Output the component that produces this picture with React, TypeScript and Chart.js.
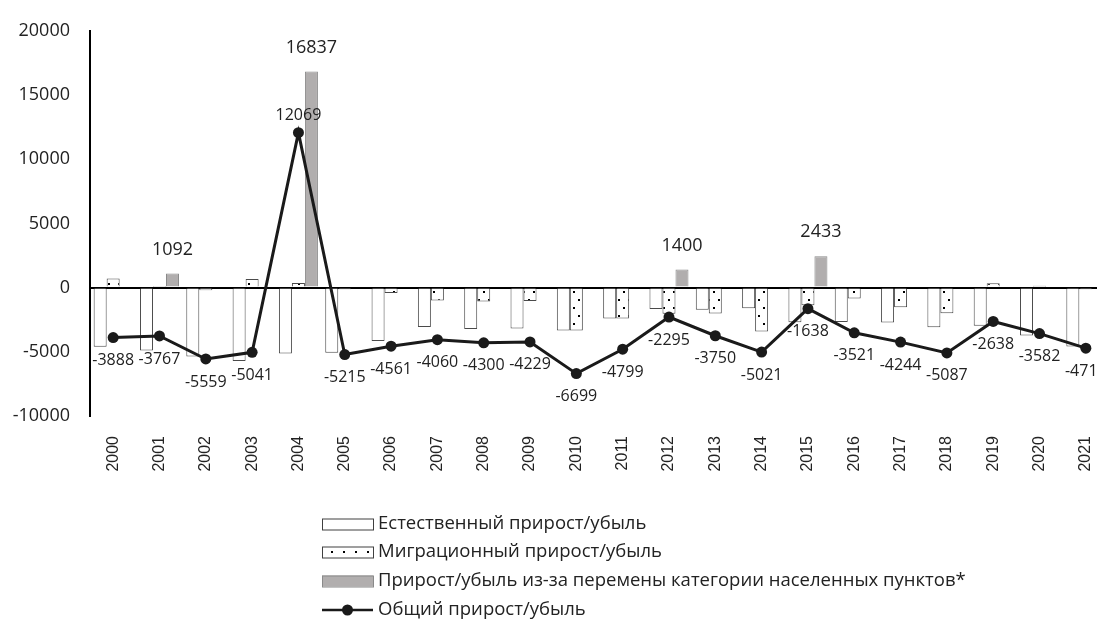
import React, { useEffect, useRef } from "react";
import { Chart, registerables } from "chart.js";

Chart.register(...registerables);

const years = [
  "2000", "2001", "2002", "2003", "2004", "2005", "2006", "2007", "2008", "2009", "2010",
  "2011", "2012", "2013", "2014", "2015", "2016", "2017", "2018", "2019", "2020", "2021",
];

const natural = [
  -4600, -4900, -5360, -5720, -5130, -5080, -4150, -3060, -3215, -3195, -3350,
  -2400, -1660, -1725, -1600, -2700, -2680, -2720, -3080, -2970, -3730, -4590,
];

const migration = [
  712, 41, -199, 679, 362, -135, -411, -1000, -1085, -1034, -3349,
  -2399, -2035, -2025, -3421, -1371, -841, -1524, -2007, 332, 148, -127,
];

const categoryChange = [
  0, 1092, 0, 0, 16837, 0, 0, 0, 0, 0, 0,
  0, 1400, 0, 0, 2433, 0, 0, 0, 0, 0, 0,
];

const total = [
  -3888, -3767, -5559, -5041, 12069, -5215, -4561, -4060, -4300, -4229, -6699,
  -4799, -2295, -3750, -5021, -1638, -3521, -4244, -5087, -2638, -3582, -4717,
];

const seriesLabels = [
  "Естественный прирост/убыль",
  "Миграционный прирост/убыль",
  "Прирост/убыль из-за перемены категории населенных пунктов*",
  "Общий прирост/убыль",
];

const yTicks = [-10000, -5000, 0, 5000, 10000, 15000, 20000];

const FONT = "'Open Sans', sans-serif";
const TEXT = "#222222";

function makeDotPattern(): CanvasPattern | string {
  const tile = document.createElement("canvas");
  tile.width = 10;
  tile.height = 16;
  const c = tile.getContext("2d");
  if (!c) return "#ffffff";
  c.fillStyle = "#ffffff";
  c.fillRect(0, 0, 10, 16);
  c.fillStyle = "#000000";
  c.fillRect(3, 3, 2, 2);
  c.fillRect(8, 11, 2, 2);
  const p = c.createPattern(tile, "repeat");
  return p || "#ffffff";
}

export default function App() {
  const canvasRef = useRef<HTMLCanvasElement | null>(null);

  useEffect(() => {
    const canvas = canvasRef.current;
    if (!canvas) return;
    const dots = makeDotPattern();

    const customPlugin = {
      id: "customDraw",
      afterDatasetsDraw(chart: any) {
        const ctx = chart.ctx;
        ctx.save();
        ctx.fillStyle = TEXT;
        ctx.textAlign = "center";
        ctx.textBaseline = "middle";
        const lineMeta = chart.getDatasetMeta(3);
        ctx.font = `16px ${FONT}`;
        lineMeta.data.forEach((pt: any, i: number) => {
          const v = chart.data.datasets[3].data[i];
          const y = v >= 0 ? pt.y - 17 : pt.y + 23;
          ctx.fillText(String(v), pt.x, y);
        });
        const barMeta = chart.getDatasetMeta(2);
        ctx.font = `18px ${FONT}`;
        barMeta.data.forEach((bar: any, i: number) => {
          const v = chart.data.datasets[2].data[i];
          if (!v) return;
          ctx.fillText(String(v), bar.x, bar.y - 24);
        });
        ctx.restore();
      },
      afterDraw(chart: any) {
        const ctx = chart.ctx;
        ctx.save();
        const x0 = 322;
        const w = 51;
        const rows = [524, 552, 581, 610];
        const fills = ["#ffffff", "#ffffff", "#b1aeae"];
        const strokes = ["#404040", "#404040", "#8a8a8a"];
        for (let i = 0; i < 3; i++) {
          ctx.fillStyle = fills[i];
          ctx.fillRect(x0, rows[i] - 5.5, w, 11);
          ctx.strokeStyle = strokes[i];
          ctx.lineWidth = 1;
          ctx.strokeRect(x0 + 0.5, rows[i] - 5, w, 11);
        }
        ctx.fillStyle = "#000000";
        for (let k = 0; k < 4; k++) {
          ctx.fillRect(x0 + 9 + k * 12, rows[1] - 1, 2, 2);
        }
        ctx.strokeStyle = "#1a1a1a";
        ctx.lineWidth = 2.5;
        ctx.beginPath();
        ctx.moveTo(x0, rows[3]);
        ctx.lineTo(x0 + w, rows[3]);
        ctx.stroke();
        ctx.fillStyle = "#1a1a1a";
        ctx.beginPath();
        ctx.arc(x0 + w / 2, rows[3], 5.5, 0, Math.PI * 2);
        ctx.fill();

        ctx.font = `18.5px ${FONT}`;
        ctx.fillStyle = TEXT;
        ctx.textAlign = "left";
        ctx.textBaseline = "middle";
        chart.data.datasets.forEach((ds: any, i: number) => {
          ctx.fillText(ds.label, x0 + w + 5, rows[i]);
        });
        ctx.restore();
      },
    };

    const chart = new Chart(canvas, {
      type: "bar",
      data: {
        labels: years,
        datasets: [
          {
            type: "bar",
            label: seriesLabels[0],
            data: natural,
            backgroundColor: "#ffffff",
            borderColor: "#4a4a4a",
            borderWidth: 1,
            order: 1,
          },
          {
            type: "bar",
            label: seriesLabels[1],
            data: migration,
            backgroundColor: dots as any,
            borderColor: "#4a4a4a",
            borderWidth: 1,
            order: 1,
          },
          {
            type: "bar",
            label: seriesLabels[2],
            data: categoryChange,
            backgroundColor: "#b1aeae",
            borderColor: "#8a8a8a",
            borderWidth: (c: any) => (c.raw ? 1 : 0),
            order: 1,
          },
          {
            type: "line",
            label: seriesLabels[3],
            data: total,
            borderColor: "#1a1a1a",
            backgroundColor: "#1a1a1a",
            borderWidth: 3,
            pointRadius: 5.5,
            pointBorderWidth: 0,
            pointBackgroundColor: "#1a1a1a",
            tension: 0,
            order: 0,
          } as any,
        ],
      },
      options: {
        responsive: false,
        animation: false,
        devicePixelRatio: 1,
        datasets: {
          bar: {
            categoryPercentage: 0.842,
            barPercentage: 1.0,
          },
        },
        layout: {
          padding: { left: 0, right: 16, top: 22, bottom: 144 },
        },
        plugins: {
          legend: { display: false },
          tooltip: { enabled: false },
        },
        scales: {
          x: {
            type: "category",
            offset: true,
            grid: { display: false },
            border: { display: false },
            ticks: {
              autoSkip: false,
              maxRotation: 90,
              minRotation: 90,
              padding: 12,
              color: TEXT,
              font: { family: "'Liberation Sans', sans-serif", size: 16 },
            },
            afterFit: (scale: any) => {
              scale.height = 60;
            },
          },
          y: {
            min: -10000,
            max: 20000,
            z: 1,
            afterBuildTicks: (scale: any) => {
              scale.ticks = yTicks.map((v) => ({ value: v }));
            },
            ticks: {
              padding: 20,
              color: TEXT,
              font: { family: FONT, size: 18 },
              callback: (v: any) => String(v),
            },
            grid: {
              drawTicks: false,
              lineWidth: 2,
              color: (c: any) => (c.tick && c.tick.value === 0 ? "#000000" : "rgba(0,0,0,0)"),
            },
            border: { display: true, color: "#000000", width: 2 },
            afterFit: (scale: any) => {
              scale.width = 90;
            },
          },
        },
      },
      plugins: [customPlugin],
    });

    return () => {
      chart.destroy();
    };
  }, []);

  return (
    <div
      style={{
        position: "fixed",
        left: 0,
        top: 0,
        width: 1097,
        height: 620,
        overflow: "hidden",
        background: "#ffffff",
      }}
    >
      <canvas
        ref={canvasRef}
        width={1125}
        height={620}
        style={{ display: "block", width: 1125, height: 620 }}
      />
    </div>
  );
}
